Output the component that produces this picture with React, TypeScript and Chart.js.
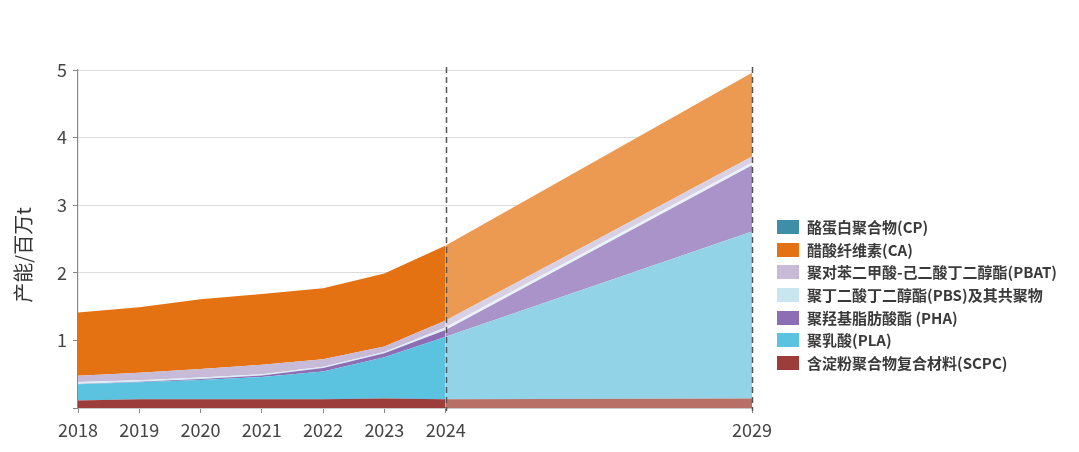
import React, { useEffect, useRef } from "react";
import { Chart, registerables } from "chart.js";

Chart.register(...registerables);

const years = [2018, 2019, 2020, 2021, 2022, 2023, 2024, 2029];
const xTicks = [2018, 2019, 2020, 2021, 2022, 2023, 2024, 2029];
const yTicks = [0, 1, 2, 3, 4, 5];
const forecastFrom = 2024;
const dashedYears = [2024, 2029];

const scpc = [0.11, 0.13, 0.13, 0.13, 0.13, 0.14, 0.13, 0.14];
const pla = [0.24, 0.25, 0.284, 0.33, 0.41, 0.61, 0.925, 2.47];
const pha = [0.006, 0.01, 0.016, 0.02, 0.05, 0.06, 0.1, 0.98];
const pbs = [0.03, 0.02, 0.02, 0.02, 0.02, 0.02, 0.04, 0.04];
const pbat = [0.09, 0.11, 0.127, 0.14, 0.11, 0.08, 0.1, 0.09];
const ca = [0.935, 0.97, 1.031, 1.046, 1.05, 1.08, 1.11, 1.24];
const cp = [0, 0, 0, 0, 0, 0, 0, 0];

const yTitle = "产能/百万t";

type S = { label: string; data: number[]; color: string; light: string };

// bottom to top
const series: S[] = [
  { label: "含淀粉聚合物复合材料(SCPC)", data: scpc, color: "#9d3d3b", light: "#b76f66" },
  { label: "聚乳酸(PLA)", data: pla, color: "#5bc2df", light: "#93d3e7" },
  { label: "聚羟基脂肪酸酯 (PHA)", data: pha, color: "#8d6db4", light: "#a993c9" },
  { label: "聚丁二酸丁二醇酯(PBS)及其共聚物", data: pbs, color: "#dcedf6", light: "#e9f3f8" },
  { label: "聚对苯二甲酸-己二酸丁二醇酯(PBAT)", data: pbat, color: "#c7bbd7", light: "#d8d0e4" },
  { label: "醋酸纤维素(CA)", data: ca, color: "#e57212", light: "#ec9a52" },
  { label: "酪蛋白聚合物(CP)", data: cp, color: "#3d8ea6", light: "#7fb6c7" },
];

const legendColors: Record<string, string> = {
  "聚丁二酸丁二醇酯(PBS)及其共聚物": "#c9e6f0",
};

const overlay = {
  id: "overlay",
  afterDatasetsDraw(chart: any) {
    const { ctx, chartArea, scales } = chart;
    ctx.save();
    ctx.strokeStyle = "#555";
    ctx.lineWidth = 1.5;
    ctx.setLineDash([6, 4]);
    for (const yr of dashedYears) {
      const x = Math.round(scales.x.getPixelForValue(yr)) + 0.5;
      ctx.beginPath();
      ctx.moveTo(x, chartArea.top - 3);
      ctx.lineTo(x, chartArea.bottom + 3);
      ctx.stroke();
    }
    ctx.restore();
  },
  afterDraw(chart: any) {
    const { ctx, chartArea } = chart;
    ctx.save();
    ctx.translate(23, (chartArea.top + chartArea.bottom) / 2 + 16);
    ctx.rotate(-Math.PI / 2);
    ctx.fillStyle = "#333";
    ctx.font = '20px "Noto Sans CJK SC"';
    ctx.textAlign = "center";
    ctx.textBaseline = "middle";
    ctx.fillText(yTitle, 0, 0);
    ctx.restore();
  },
};

export default function App() {
  const ref = useRef<HTMLCanvasElement | null>(null);
  useEffect(() => {
    if (!ref.current) return;
    const datasets = series.map((s, i) => ({
      label: s.label,
      data: years.map((x, j) => ({ x, y: s.data[j] })),
      backgroundColor: s.color,
      borderWidth: 0,
      borderColor: "rgba(0,0,0,0)",
      pointRadius: 0,
      fill: i === 0 ? "origin" : "-1",
      tension: 0,
      segment: {
        backgroundColor: (c: any) => (c.p0.parsed.x >= forecastFrom ? s.light : s.color),
      },
    }));
    const chart = new Chart(ref.current, {
      type: "line",
      data: { datasets },
      plugins: [overlay],
      options: {
        animation: false,
        responsive: false,
        maintainAspectRatio: false,
        layout: { padding: { left: 0, right: 1079 - 752, top: 70, bottom: 0 } },
        plugins: { legend: { display: false }, tooltip: { enabled: false } },
        elements: { line: { borderWidth: 0 } },
        scales: {
          x: {
            type: "linear",
            min: 2018,
            max: 2029,
            afterBuildTicks: (sc: any) => {
              sc.ticks = xTicks.map((v) => ({ value: v }));
            },
            afterFit: (sc: any) => {
              sc.height = 452 - 408;
            },
            ticks: {
              autoSkip: false,
              maxRotation: 0,
              padding: 6,
              color: "#444",
              font: { family: '"Noto Sans CJK SC"', size: 18 },
              callback: (v: any) => String(v),
            },
            grid: { drawOnChartArea: false, tickLength: 5, tickColor: "#888", color: "#888" },
            border: { color: "#888", width: 1.2 },
          },
          y: {
            stacked: true,
            min: 0,
            max: 5,
            afterBuildTicks: (sc: any) => {
              sc.ticks = yTicks.map((v) => ({ value: v }));
            },
            afterFit: (sc: any) => {
              sc.width = 78;
            },
            ticks: {
              padding: 6,
              color: "#444",
              font: { family: '"Noto Sans CJK SC"', size: 18 },
              callback: (v: any) => (v === 0 ? "" : String(v)),
            },
            grid: { color: "#dcdcdc", tickLength: 5, tickColor: "#888" },
            border: { color: "#888", width: 1.2 },
          },
        },
      },
    });
    return () => chart.destroy();
  }, []);

  const legend = [...series].reverse();
  return (
    <div style={{ position: "fixed", left: 0, top: 0, width: 1079, height: 452, background: "#fff" }}>
      <canvas ref={ref} width={1079} height={452} style={{ width: 1079, height: 452, display: "block" }} />
      <div style={{ position: "absolute", left: 777, top: 216 }}>
        {legend.map((s) => (
          <div key={s.label} style={{ display: "flex", alignItems: "center", height: 22.6 }}>
            <div style={{ width: 22, height: 14, background: legendColors[s.label] || s.color, marginRight: 8 }} />
            <span
              style={{
                fontFamily: '"Noto Sans CJK SC"',
                fontSize: 15,
                fontWeight: 700,
                color: "#3a3a3a",
                whiteSpace: "nowrap",
                lineHeight: "22px",
              }}
            >
              {s.label}
            </span>
          </div>
        ))}
      </div>
    </div>
  );
}
